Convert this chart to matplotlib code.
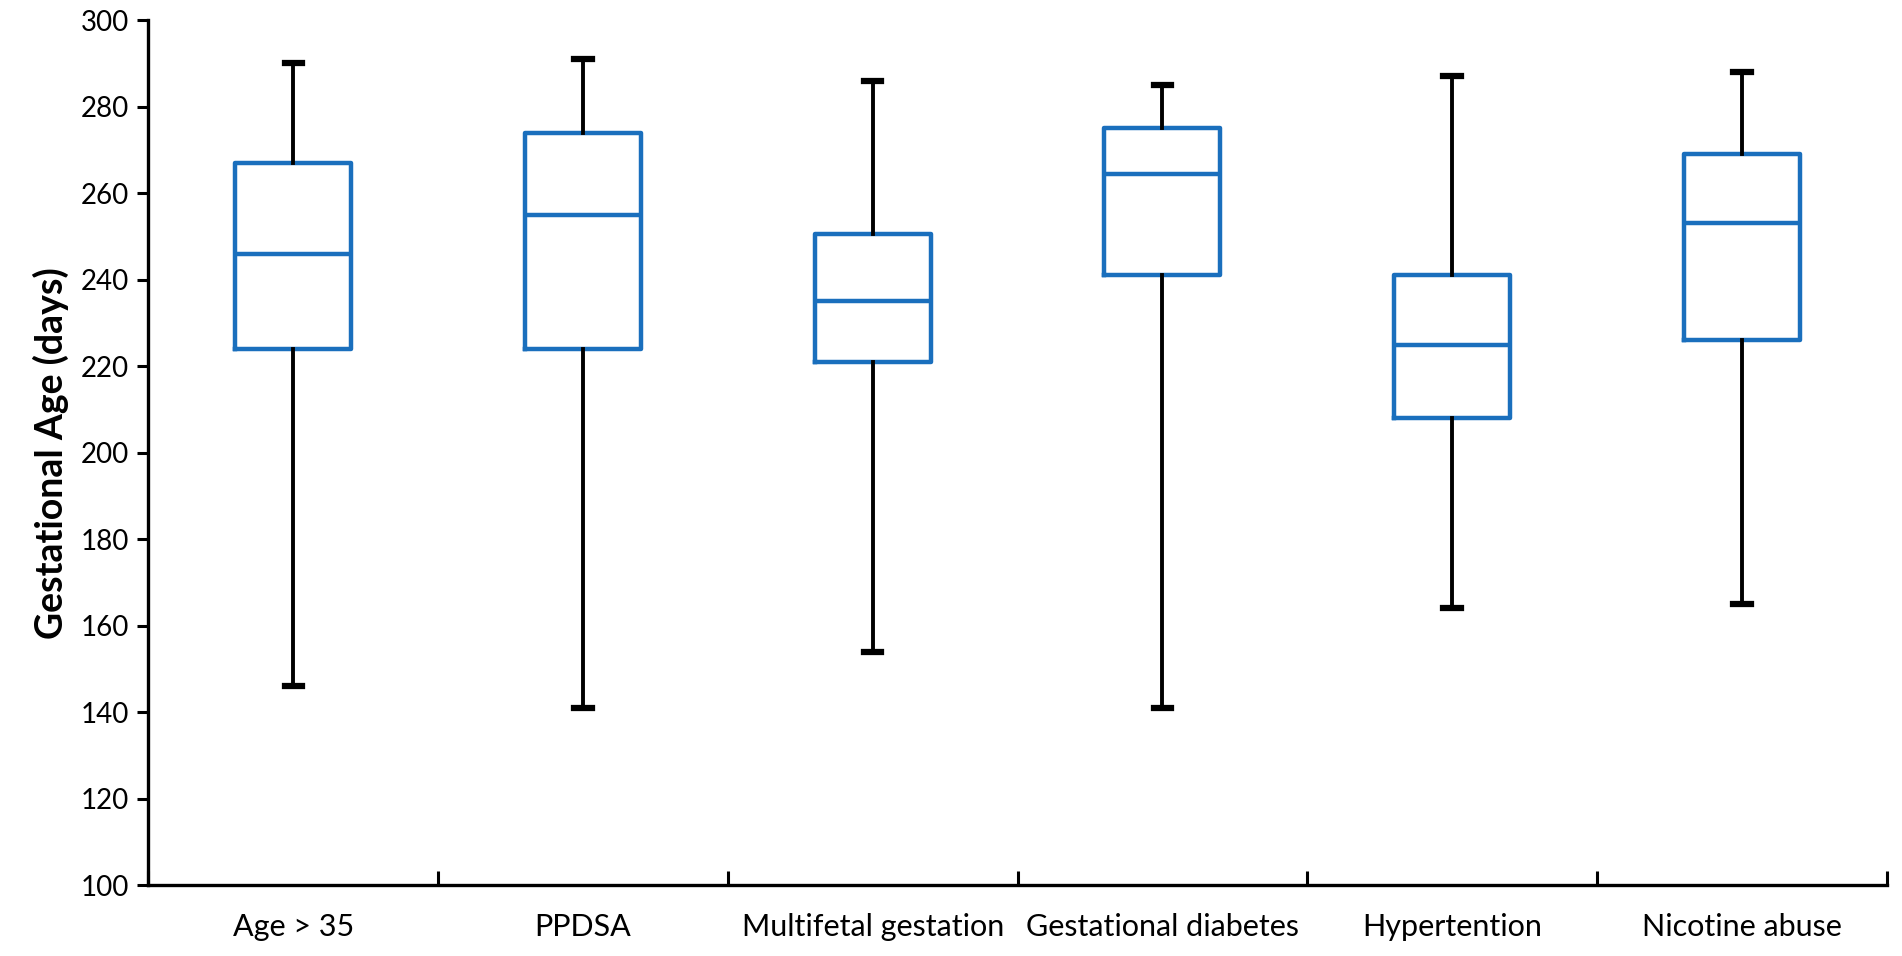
import matplotlib
matplotlib.use("Agg")
import numpy as np
import matplotlib.pyplot as plt

# values (days)
groups = ["Age > 35", "PPDSA", "Multifetal gestation", "Gestational diabetes",
          "Hypertention", "Nicotine abuse"]
whisk_lo = [146, 141, 154, 141, 164, 165]
q1 = [224, 224, 221, 241, 208, 226]
median = [246, 255, 235, 264.5, 225, 253]
q3 = [267, 274, 250.5, 275, 241, 269]
whisk_hi = [290, 291, 286, 285, 287, 288]
yticks = list(range(100, 301, 20))

plt.rcParams['font.family'] = ['Lato', 'DejaVu Sans']

fig = plt.figure(figsize=(19.02, 9.56), dpi=100)
ax = fig.add_axes([0.078, 0.074, 0.914, 0.905])

stats = []
for i in range(len(groups)):
    stats.append({'label': groups[i], 'whislo': whisk_lo[i], 'q1': q1[i],
                  'med': median[i], 'q3': q3[i], 'whishi': whisk_hi[i], 'fliers': []})

blue = '#1a6fbd'
pos = np.arange(1, len(groups) + 1)
ax.bxp(stats, positions=pos, widths=0.4, showfliers=False, capwidths=0.06,
       boxprops=dict(color=blue, linewidth=3.2),
       medianprops=dict(color=blue, linewidth=3.2),
       whiskerprops=dict(color='black', linewidth=2.8),
       capprops=dict(color='black', linewidth=4.5))

ax.set_xlim(0.5, len(groups) + 0.5)
ax.set_ylim(100, 300)
ax.set_yticks(yticks)
ax.tick_params(axis='y', direction='out', length=8, width=2.2, labelsize=20, pad=6)

# x ticks: boundaries marked inward, labels at the centres
ax.set_xticks(np.arange(0.5, len(groups) + 1, 1.0))
ax.set_xticklabels([])
ax.tick_params(axis='x', which='major', direction='in', length=10, width=2.2)
ax.set_xticks(pos, minor=True)
ax.set_xticklabels(groups, minor=True)
ax.tick_params(axis='x', which='minor', length=0, labelsize=22, pad=20)

for s in ['top', 'right']:
    ax.spines[s].set_visible(False)
for s in ['left', 'bottom']:
    ax.spines[s].set_linewidth(2.4)

ax.set_ylabel('Gestational Age (days)', fontsize=27, fontweight='bold', labelpad=8)

plt.savefig('out.png', dpi=100)
